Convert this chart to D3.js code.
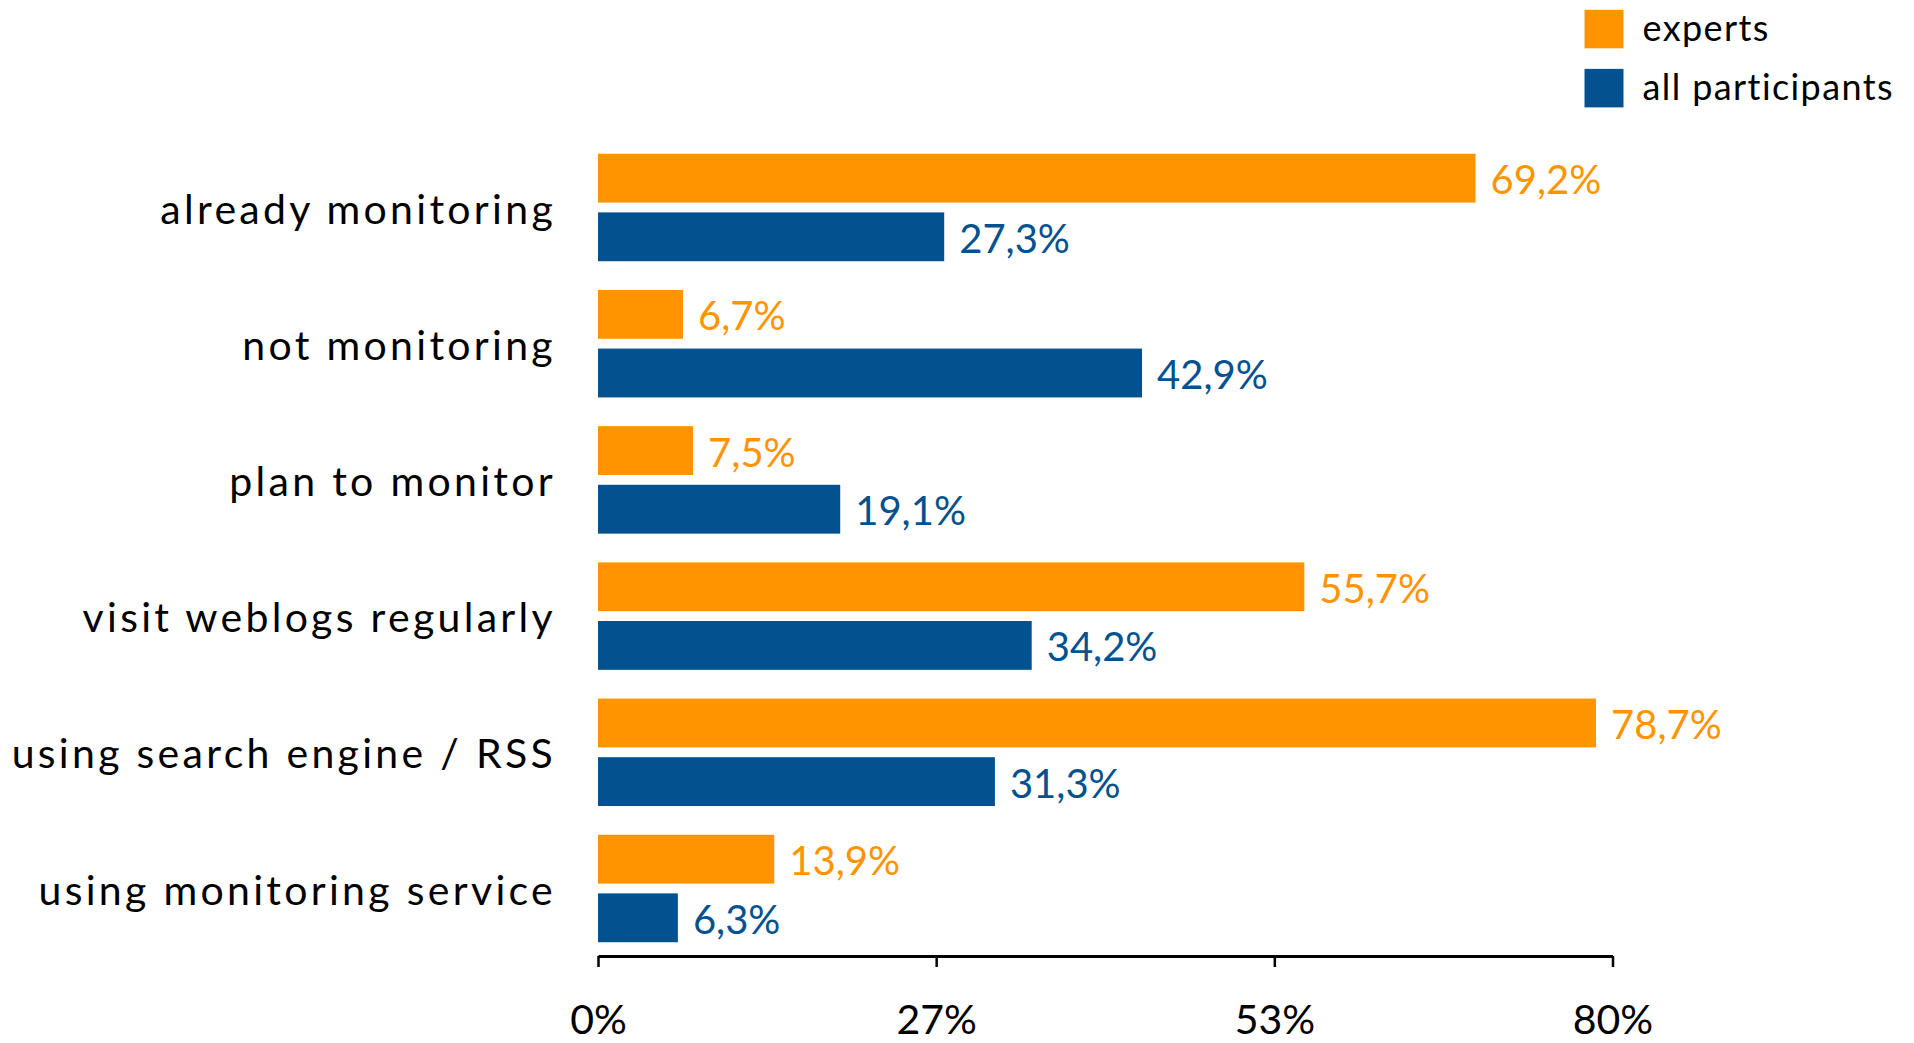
<!DOCTYPE html>
<html>
<head>
<meta charset="utf-8">
<script src="https://cdn.jsdelivr.net/npm/d3@7"></script>
<style>
  html, body { margin: 0; padding: 0; background: #ffffff; }
  svg { display: block; }
  text { font-family: Lato, "Open Sans", "DejaVu Sans", sans-serif; }
</style>
</head>
<body>
<script>
const categories = ["already monitoring", "not monitoring", "plan to monitor",
  "visit weblogs regularly", "using search engine / RSS", "using monitoring service"];
const seriesNames = ["experts", "all participants"];
const experts = [69.2, 6.7, 7.5, 55.7, 78.7, 13.9];
const allParticipants = [27.3, 42.9, 19.1, 34.2, 31.3, 6.3];
const tickValues = [0, 80 / 3, 160 / 3, 80];
const tickLabels = ["0%", "27%", "53%", "80%"];
const valueLabelsExperts = ["69,2%", "6,7%", "7,5%", "55,7%", "78,7%", "13,9%"];
const valueLabelsAll = ["27,3%", "42,9%", "19,1%", "34,2%", "31,3%", "6,3%"];

const W = 1914, H = 1043;
const colors = { "experts": "#ff9400", "all participants": "#03528f" };

const svg = d3.select("body").append("svg").attr("width", W).attr("height", H);

const x = d3.scaleLinear().domain([0, 80]).range([598, 1612.5]);
const y = d3.scaleBand().domain(categories).range([139.4, 956.6])
  .paddingInner(0.211).paddingOuter(0.1055);
const ySub = d3.scaleBand().domain(seriesNames).range([0, y.bandwidth()])
  .paddingInner(0.167).paddingOuter(0);

const rows = categories.map((c, i) => ({
  cat: c,
  vals: [
    { s: "experts", v: experts[i], label: valueLabelsExperts[i] },
    { s: "all participants", v: allParticipants[i], label: valueLabelsAll[i] }
  ]
}));

const g = svg.append("g");
const grp = g.selectAll("g.row").data(rows).join("g")
  .attr("class", "row")
  .attr("transform", d => `translate(0,${y(d.cat)})`);

grp.selectAll("rect").data(d => d.vals).join("rect")
  .attr("x", x(0))
  .attr("y", d => ySub(d.s))
  .attr("width", d => x(d.v) - x(0))
  .attr("height", ySub.bandwidth())
  .attr("fill", d => colors[d.s]);

grp.selectAll("text.val").data(d => d.vals).join("text")
  .attr("class", "val")
  .attr("x", d => x(d.v) + 15)
  .attr("y", d => ySub(d.s) + ySub.bandwidth() / 2 + 16)
  .attr("fill", d => colors[d.s])
  .style("font-size", "40px")
  .text(d => d.label);

// category labels
g.selectAll("text.cat").data(categories).join("text")
  .attr("class", "cat")
  .attr("x", 556)
  .attr("y", d => y(d) + y.bandwidth() / 2 + 16)
  .attr("text-anchor", "end")
  .style("font-size", "41px")
  .style("letter-spacing", "3.3px")
  .attr("fill", "#000")
  .text(d => d);

// x axis
const axis = d3.axisBottom(x).tickValues(tickValues)
  .tickFormat((d, i) => tickLabels[i]).tickSize(11).tickSizeOuter(0).tickPadding(38);
const ax = svg.append("g").attr("transform", `translate(0,956)`).call(axis);
ax.select(".domain").attr("stroke", "#000").attr("stroke-width", 3);
ax.selectAll(".tick line").attr("stroke", "#000").attr("stroke-width", 2.5);
ax.selectAll(".tick text").attr("fill", "#000")
  .style("font-size", "41px").style("font-family", "Lato, 'Open Sans', sans-serif");

// legend
const leg = svg.append("g");
const legY = d3.scaleBand().domain(seriesNames).range([9.8, 107.4]).paddingInner(0.348).paddingOuter(0);
const li = leg.selectAll("g").data(seriesNames).join("g")
  .attr("transform", d => `translate(1584.5,${legY(d)})`);
li.append("rect").attr("width", 39).attr("height", legY.bandwidth())
  .attr("fill", d => colors[d]);
li.append("text").attr("x", 58).attr("y", legY.bandwidth() / 2 + 12)
  .style("font-size", "36px").style("letter-spacing", "1.4px")
  .attr("fill", "#000").text(d => d);
</script>
</body>
</html>
